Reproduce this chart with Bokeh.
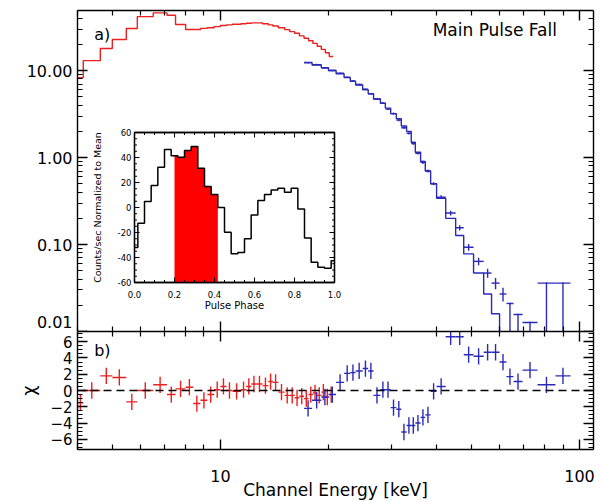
import numpy as np
from bokeh.plotting import figure
from bokeh.layouts import column
from bokeh.models import (Range1d, LinearScale, LogAxis, LinearAxis, FixedTicker,
                          Label, Span, PrintfTickFormatter, CustomJSTickFormatter)
from bokeh.embed import file_html
from bokeh.resources import INLINE
from bokeh.core.properties import value

# ---------------- data ----------------
# red (low-energy instrument): bin edges [keV], model flux, chi residuals
red_edges = [4.0, 4.15, 4.63, 5.0, 5.47, 5.87, 6.5, 7.1, 7.5, 8.0, 8.4, 8.8, 9.2, 9.6,
             10.0, 10.4, 10.8, 11.4, 11.8, 12.2, 12.6, 13.1, 13.6, 14.0, 14.5, 15.1,
             15.6, 16.1, 16.6, 17.1, 17.6, 18.1, 18.6, 19.1, 19.6, 20.1, 20.6]
red_model = [8.3, 13.0, 17.9, 22.7, 30.4, 41.7, 46.0, 43.2, 33.8, 29.6,
             29.6, 30.5, 31.0, 32.0, 33.0, 33.5, 34.0, 34.5, 35.0, 35.3,
             35.3, 34.5, 33.5, 32.5, 31.0, 29.5, 28.0, 26.8, 25.0, 23.5,
             22.0, 20.5, 19.0, 17.5, 16.0, 14.5]
red_chi = [-1.5, 0.0, 1.8, 1.6, -1.4, 0.0, 0.7, -0.5, 0.2, 0.4,
           -1.6, -1.2, -0.5, 0.1, 0.5, 0.0, -0.1, 0.1, 0.5, 0.8,
           0.8, 0.6, 1.1, 1.0, -0.2, -0.6, -0.6, -0.9, -0.7, -1.0,
           -0.5, -0.3, -0.6, -0.2, -0.8, -0.5]

# blue (high-energy instrument)
blue_edges = [17.1, 18.0, 19.1, 20.0, 21.0, 22.1, 23.0, 23.8, 24.9, 25.8, 26.7, 27.9,
              28.8, 29.8, 30.9, 31.9, 33.0, 34.0, 34.9, 36.1, 37.2, 38.5, 40.0, 42.4,
              45.2, 47.6, 50.7, 54.1, 56.9, 59.9, 62.6, 65.5, 69.4, 76.4, 85.7, 94.4]
blue_model = [12.4, 11.6, 10.8, 10.0, 9.2, 8.3, 7.5, 6.8, 6.0, 5.4, 4.7, 4.2, 3.7,
              3.2, 2.8, 2.3, 2.0, 1.5, 1.15, 0.9, 0.7, 0.5, 0.34, 0.20, 0.127,
              0.078, 0.047, 0.027, 0.016, 0.009, 0.005, 0.003, 0.0018, 0.001, 0.0005]
blue_flux = [12.3, 11.7, 10.7, 10.0, 9.3, 8.4, 7.6, 6.9, 6.1, 5.4, 4.7, 4.2, 3.6,
             3.2, 2.7, 2.2, 1.9, 1.45, 1.12, 0.88, 0.70, 0.50, 0.35, 0.23, 0.156,
             0.093, 0.064, 0.047, 0.036, 0.027, 0.021, 0.0157, 0.0127, 0.036, 0.036]
# relative lower / upper error of the flux points
blue_err_lo = [0.02, 0.02, 0.02, 0.02, 0.02, 0.02, 0.02, 0.02, 0.02, 0.02, 0.02, 0.02, 0.02,
               0.03, 0.03, 0.03, 0.03, 0.03, 0.03, 0.04, 0.04, 0.04, 0.05, 0.06, 0.07,
               0.09, 0.10, 0.12, 0.15, 0.18, 1.0, 1.0, 1.0, 1.0, 1.0]
blue_err_hi = [0.02, 0.02, 0.02, 0.02, 0.02, 0.02, 0.02, 0.02, 0.02, 0.02, 0.02, 0.02, 0.02,
               0.03, 0.03, 0.03, 0.03, 0.03, 0.03, 0.04, 0.04, 0.04, 0.05, 0.06, 0.07,
               0.09, 0.10, 0.12, 0.15, 0.18, 0.02, 0.02, 0.02, 0.02, 0.02]
blue_chi = [-2.2, -1.2, -0.8, -0.5, 1.0, 2.1, 2.2, 2.4, 2.7, 2.4, -0.6, 0.1, 0.1,
            -2.1, -2.3, -5.1, -4.3, -4.3, -4.0, -3.3, -3.0, -0.1, 0.5, 6.6, 6.6,
            4.4, 4.2, 4.7, 4.7, 3.5, 1.7, 1.1, 2.5, 0.7, 1.8]

# inset pulse profile
phase_edges = [0.0, 0.0167, 0.05, 0.0833, 0.1167, 0.15, 0.1833, 0.2167, 0.25, 0.2833,
               0.3167, 0.35, 0.3833, 0.4167, 0.45, 0.4833, 0.5167, 0.55, 0.5833, 0.6167,
               0.65, 0.6833, 0.7167, 0.75, 0.7833, 0.8167, 0.85, 0.8833, 0.9167, 0.95,
               0.9833, 1.0]
pulse_counts = [-32.0, -12.5, 4.8, 17.6, 32.3, 46.4, 41.5, 40.3, 45.6, 48.8,
                31.5, 16.8, 10.4, 0.0, -19.7, -37.0, -36.0, -25.0, -5.9, 5.6,
                10.4, 14.1, 15.5, 12.3, 15.5, -1.1, -24.3, -43.7, -47.7, -48.5,
                -42.6]
phase_sel = [0.2, 0.4167]          # selected phase interval (main pulse fall)
inset_xlim = [0.0, 1.0]
inset_ylim = [-60.0, 60.0]
inset_xticks = [0.0, 0.2, 0.4, 0.6, 0.8, 1.0]
inset_xtick_labels = ["0.0", "0.2", "0.4", "0.6", "0.8", "1.0"]
inset_yticks = [-60, -40, -20, 0, 20, 40, 60]
inset_ytick_labels = ["-60", "-40", "-20", "0", "20", "40", "60"]

# axis ticks
x_major = [10, 100]
x_minor = [4, 5, 6, 7, 8, 9, 20, 30, 40, 50, 60, 70, 80, 90]
y_major = [0.01, 0.1, 1, 10]
y_minor = [m * d for d in (0.01, 0.1, 1) for m in range(2, 10)] + [20, 30, 40]
# label positions of the log axis: the lowest label sits just above its tick
y_label_pos = [0.0128, 0.1, 1, 10]
chi_major = [-6, -4, -2, 0, 2, 4, 6]
chi_minor = [v / 2 for v in range(-14, 15) if v % 4 != 0]

# ---------------- style ----------------
RED = "#ec1f1f"
BLUE = "#2a2ab8"
FONT = "DejaVu Sans"
LW = 1.4


def step_xy(edges, vals):
    xs, ys = [], []
    for i, v in enumerate(vals):
        xs += [edges[i], edges[i + 1]]
        ys += [v, v]
    return xs, ys


def style_axis(ax, maj, mnr, labels, fsize="16px"):
    ax.major_tick_in = maj
    ax.major_tick_out = 0
    ax.minor_tick_in = mnr
    ax.minor_tick_out = 0
    ax.axis_line_width = LW
    ax.major_tick_line_width = LW
    ax.minor_tick_line_width = 1.2
    ax.axis_line_color = "black"
    ax.major_tick_line_color = "black"
    ax.minor_tick_line_color = "black"
    if labels:
        ax.major_label_text_font = FONT
        ax.major_label_text_font_size = fsize
        ax.major_label_text_color = "black"
    else:
        ax.major_label_text_font_size = "0px"
        ax.major_label_text_alpha = 0
        ax.major_label_standoff = 0


# ---------------- top panel ----------------
p1 = figure(width=600, height=331, x_axis_type="log", y_axis_type="log",
            x_range=Range1d(4.0, 109.4), y_range=Range1d(0.01, 49.0),
            output_backend="svg", toolbar_location=None,
            min_border_left=77, min_border_right=7, min_border_top=10, min_border_bottom=0)
p1.grid.visible = False
p1.outline_line_color = None
p1.background_fill_color = "white"

p1.xaxis.ticker = FixedTicker(ticks=x_major, minor_ticks=x_minor)
p1.yaxis.ticker = FixedTicker(ticks=y_major, minor_ticks=y_minor)
for ax in p1.xaxis:
    style_axis(ax, 10, 5, False)
for ax in p1.yaxis:
    style_axis(ax, 10, 5, False)

# outer left axis: only the tick labels
ax_lab = LogAxis(ticker=FixedTicker(ticks=y_label_pos, minor_ticks=[]),
                 formatter=CustomJSTickFormatter(
                     code="return tick < 0.05 ? '0.01' : tick.toFixed(2);"))
style_axis(ax_lab, 0, 0, True, "16px")
ax_lab.axis_line_color = None
ax_lab.major_tick_line_color = None
ax_lab.minor_tick_line_color = None
ax_lab.major_label_standoff = 5
p1.add_layout(ax_lab, "left")

ax_r = LogAxis(ticker=FixedTicker(ticks=y_major, minor_ticks=y_minor))
style_axis(ax_r, 10, 5, False)
p1.add_layout(ax_r, "right")
ax_t = LogAxis(ticker=FixedTicker(ticks=x_major, minor_ticks=x_minor))
style_axis(ax_t, 10, 5, False)
p1.add_layout(ax_t, "above")

rx, ry = step_xy(red_edges, red_model)
p1.line(rx, ry, line_color=RED, line_width=LW)
bx, by = step_xy(blue_edges, blue_model)
p1.line(bx, by, line_color=BLUE, line_width=LW)

be = np.array(blue_edges)
bf = np.array(blue_flux)
bc = np.sqrt(be[:-1] * be[1:])
blo = np.clip(bf * (1 - np.array(blue_err_lo)), 1e-5, None)
bhi = bf * (1 + np.array(blue_err_hi))
p1.segment(be[:-1], bf, be[1:], bf, line_color=BLUE, line_width=LW)
p1.segment(bc, blo, bc, bhi, line_color=BLUE, line_width=LW)

p1.add_layout(Label(x=4.45, y=26.0, text="a)", text_font=FONT, text_font_size="16px",
                    text_color="black", text_baseline="middle", text_align="left"))
p1.add_layout(Label(x=39.0, y=29.5, text="Main Pulse Fall", text_font=FONT,
                    text_color="black", text_font_size="17px",
                    text_baseline="middle", text_align="left"))

# ---------------- inset (drawn in its own linear coordinate system) ----------------
p1.extra_x_ranges = {"ph": Range1d(-0.285, 2.295)}
p1.extra_x_scales = {"ph": LinearScale()}
p1.extra_y_ranges = {"cn": Range1d(-99.2, 157.6)}
p1.extra_y_scales = {"cn": LinearScale()}
IK = dict(x_range_name="ph", y_range_name="cn")

p1.quad(left=[inset_xlim[0]], right=[inset_xlim[1]], bottom=[inset_ylim[0]], top=[inset_ylim[1]],
        fill_color="white", line_color="black", line_width=1.3, **IK)

# red selected interval
pxs, pys = [phase_sel[0]], [inset_ylim[0]]
for i, v in enumerate(pulse_counts):
    x0, x1 = phase_edges[i], phase_edges[i + 1]
    if x1 <= phase_sel[0] or x0 >= phase_sel[1]:
        continue
    pxs += [max(x0, phase_sel[0]), min(x1, phase_sel[1])]
    pys += [v, v]
pxs.append(phase_sel[1])
pys.append(inset_ylim[0])
p1.patch(pxs, pys, fill_color="#ff0000", line_color=None, **IK)

hx, hy = step_xy(phase_edges, pulse_counts)
p1.line(hx, hy, line_color="black", line_width=1.5, **IK)

# inset ticks (inward, all four sides)
px_per_ph = 200.0   # pixels per phase unit
px_per_cn = 1.25    # pixels per count unit
maj_l, min_l = 5.0, 2.5
ph_minor = [k * 0.05 for k in range(21) if k % 4 != 0]
cn_minor = [k * 5 for k in range(-12, 13) if k % 4 != 0]
seg = dict(line_color="black", line_width=1.0, **IK)
for ticks, L in ((inset_xticks, maj_l), (ph_minor, min_l)):
    t = np.array(ticks)
    p1.segment(t, inset_ylim[0], t, inset_ylim[0] + L / px_per_cn, **seg)
    p1.segment(t, inset_ylim[1], t, inset_ylim[1] - L / px_per_cn, **seg)
for ticks, L in ((inset_yticks, maj_l), (cn_minor, min_l)):
    t = np.array(ticks)
    p1.segment(inset_xlim[0], t, inset_xlim[0] + L / px_per_ph, t, **seg)
    p1.segment(inset_xlim[1], t, inset_xlim[1] - L / px_per_ph, t, **seg)

p1.quad(left=[inset_xlim[0]], right=[inset_xlim[1]], bottom=[inset_ylim[0]], top=[inset_ylim[1]],
        fill_color=None, line_color="black", line_width=1.3, **IK)

p1.text(x=inset_xticks, y=[inset_ylim[0] - 8 / px_per_cn] * len(inset_xticks),
        text=inset_xtick_labels, text_font=value(FONT), text_font_size=value("8.5px"),
        text_align="center", text_baseline="top", text_color="black", **IK)
p1.text(x=[inset_xlim[0] - 3 / px_per_ph] * len(inset_yticks), y=inset_yticks,
        text=inset_ytick_labels, text_font=value(FONT), text_font_size=value("8.5px"),
        text_align="right", text_baseline="middle", text_color="black", **IK)
p1.text(x=[0.5], y=[inset_ylim[0] - 23 / px_per_cn], text=["Pulse Phase"],
        text_font=value(FONT), text_font_size=value("10px"), text_color="black",
        text_align="center", text_baseline="middle", **IK)
p1.text(x=[inset_xlim[0] - 37 / px_per_ph], y=[0.0], text=["Counts/sec Normalized to Mean"],
        text_font=value(FONT), text_font_size=value("9.5px"), angle=np.pi / 2,
        text_color="black", text_align="center", text_baseline="middle", **IK)

# ---------------- bottom panel ----------------
p2 = figure(width=600, height=171, x_axis_type="log",
            x_range=p1.x_range, y_range=Range1d(-7.25, 7.25),
            output_backend="svg", toolbar_location=None,
            min_border_left=77, min_border_right=7, min_border_top=0, min_border_bottom=50)
p2.grid.visible = False
p2.outline_line_color = None

p2.xaxis.ticker = FixedTicker(ticks=x_major, minor_ticks=x_minor)
p2.xaxis.formatter = PrintfTickFormatter(format="%d")
p2.yaxis.ticker = FixedTicker(ticks=chi_major, minor_ticks=chi_minor)
p2.yaxis.formatter = CustomJSTickFormatter(
    code="return tick < 0 ? '\u2212' + Math.abs(tick) : String(tick);")
for ax in p2.xaxis:
    style_axis(ax, 10, 5, True, "16px")
    ax.major_label_standoff = 20
    ax.axis_label = "Channel Energy [keV]"
    ax.axis_label_text_font = FONT
    ax.axis_label_text_font_size = "17px"
    ax.axis_label_text_font_style = "normal"
    ax.axis_label_text_color = "black"
    ax.axis_label_standoff = -5
for ax in p2.yaxis:
    style_axis(ax, 10, 5, True, "15px")
    ax.major_label_standoff = 5
    ax.axis_label = "χ"
    ax.axis_label_text_font = FONT
    ax.axis_label_text_font_size = "18px"
    ax.axis_label_text_font_style = "normal"
    ax.axis_label_text_color = "black"
    ax.axis_label_standoff = 8

ax_r2 = LinearAxis(ticker=FixedTicker(ticks=chi_major, minor_ticks=chi_minor))
style_axis(ax_r2, 10, 5, False)
p2.add_layout(ax_r2, "right")
ax_t2 = LogAxis(ticker=FixedTicker(ticks=x_major, minor_ticks=x_minor))
style_axis(ax_t2, 10, 5, False)
p2.add_layout(ax_t2, "above")

p2.add_layout(Span(location=0, dimension="width", line_color="black",
                   line_dash="8 5", line_width=LW))

re_ = np.array(red_edges)
rc = np.sqrt(re_[:-1] * re_[1:])
rchi = np.array(red_chi)
p2.segment(re_[:-1], rchi, re_[1:], rchi, line_color=RED, line_width=LW)
p2.segment(rc, rchi - 1, rc, rchi + 1, line_color=RED, line_width=LW)

bchi = np.array(blue_chi)
p2.segment(be[:-1], bchi, be[1:], bchi, line_color=BLUE, line_width=LW)
p2.segment(bc, bchi - 1, bc, bchi + 1, line_color=BLUE, line_width=LW)

p2.add_layout(Label(x=4.45, y=4.9, text="b)", text_font=FONT, text_font_size="16px",
                    text_color="black", text_baseline="middle", text_align="left"))

layout = column(p1, p2, spacing=0)
open("out.html", "w").write(file_html(layout, INLINE))
